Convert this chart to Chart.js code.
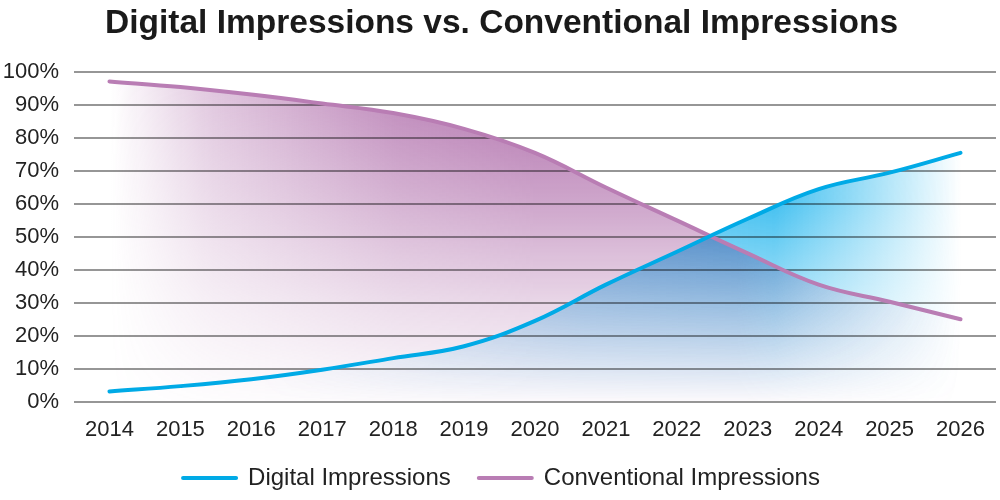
<!DOCTYPE html>
<html><head><meta charset="utf-8">
<script src="https://cdn.jsdelivr.net/npm/chart.js@4/dist/chart.umd.min.js"></script>
<style>html,body{margin:0;padding:0;background:#fff;}#wrap{width:1000px;height:500px;position:relative;}</style>
</head><body><div id="wrap"><canvas id="c"></canvas></div>
<script>
const years = ['2014','2015','2016','2017','2018','2019','2020','2021','2022','2023','2024','2025','2026'];
const digital = [3.1, 4.7, 6.8, 9.7, 13.2, 16.8, 24.5, 35.5, 45.5, 55.5, 64.5, 69.5, 75.5];
const conventional = [97.2, 95.5, 93.2, 90.5, 87.6, 82.8, 75.5, 65, 55, 45, 35.5, 30.3, 25];
const seriesNames = ['Digital Impressions', 'Conventional Impressions'];
const seriesColors = ['#00AAE6', '#B97DB4'];

const FONT = "'Liberation Sans', Arial, sans-serif";
const cache = {};
function makeFill(chart, key, rgb, hStops, vStops) {
  const a = chart.chartArea;
  if (!a) return 'rgba(0,0,0,0)';
  const sig = key + a.left + a.right + a.top + a.bottom + chart.width + chart.height;
  if (cache[key] && cache[key].sig === sig) return cache[key].pat;
  const cv = document.createElement('canvas');
  cv.width = chart.width; cv.height = chart.height;
  const g = cv.getContext('2d');
  const hx = g.createLinearGradient(a.left, 0, a.right, 0);
  hStops.forEach(([p, al]) => hx.addColorStop(p, 'rgba(' + rgb + ',' + al + ')'));
  g.fillStyle = hx; g.fillRect(0, 0, cv.width, cv.height);
  g.globalCompositeOperation = 'destination-in';
  const vy = g.createLinearGradient(0, a.top, 0, a.bottom);
  vStops.forEach(([p, al]) => vy.addColorStop(p, 'rgba(0,0,0,' + al + ')'));
  g.fillStyle = vy; g.fillRect(0, 0, cv.width, cv.height);
  const pat = chart.ctx.createPattern(cv, 'no-repeat');
  cache[key] = {sig, pat};
  return pat;
}

const blendPlugin = {
  id: 'blend',
  beforeRender(chart) { chart.ctx.globalCompositeOperation = 'multiply'; },
  beforeDatasetsDraw(chart) { chart.ctx.globalCompositeOperation = 'source-over'; },
  afterDraw(chart) { chart.ctx.globalCompositeOperation = 'source-over'; }
};

new Chart(document.getElementById('c'), {
  type: 'line',
  data: {
    labels: years,
    datasets: [
      {
        label: seriesNames[0], data: digital,
        borderColor: seriesColors[0], borderWidth: 4, borderCapStyle: 'round',
        tension: 0.4, pointRadius: 0, pointHoverRadius: 0, fill: 'origin',
        backgroundColor: (ctx) => makeFill(ctx.chart, 'd', '0,170,235',
          [[0,0],[0.2,0],[0.4,0.5],[0.55,0.72],[0.76,0.85],[0.962,0],[1,0]],
          [[0,1],[0.4,0.85],[1,0]])
      },
      {
        label: seriesNames[1], data: conventional,
        borderColor: seriesColors[1], borderWidth: 4, borderCapStyle: 'round',
        tension: 0.4, pointRadius: 0, pointHoverRadius: 0, fill: 'origin',
        backgroundColor: (ctx) => makeFill(ctx.chart, 'c', '170,100,165',
          [[0,0],[0.04,0],[0.15,0.38],[0.35,0.8],[0.5,0.95],[0.72,0.95],[0.962,0],[1,0]],
          [[0,1],[0.4,0.6],[0.7,0.28],[1,0.04]])
      }
    ]
  },
  options: {
    responsive: true, maintainAspectRatio: false, animation: false,
    layout: { padding: { left: 3, right: 0, top: 0, bottom: 0 } },
    plugins: {
      filler: { drawTime: 'beforeDraw' },
      tooltip: { enabled: false },
      title: {
        display: true, text: 'Digital Impressions vs. Conventional Impressions',
        color: '#1a1a1a', font: { family: FONT, size: 33.5, weight: 'bold' },
        padding: { top: 4, bottom: 28 }
      },
      legend: {
        position: 'bottom',
        labels: {
          font: { family: FONT, size: 24 }, color: '#222',
          usePointStyle: true, pointStyle: 'line', pointStyleWidth: 53, boxHeight: 24, padding: 8,
          generateLabels: (chart) => chart.data.datasets.map((ds, i) => ({
            text: i === 0 ? ds.label + '   ' : ds.label,
            fillStyle: ds.borderColor, strokeStyle: ds.borderColor,
            lineWidth: 4, lineCap: 'round', pointStyle: 'line', fontColor: '#222',
            hidden: false, datasetIndex: i
          }))
        }
      }
    },
    scales: {
      x: {
        offset: true,
        grid: { display: false, drawTicks: false },
        border: { display: false },
        ticks: { font: { family: FONT, size: 22 }, color: '#222', padding: 15 }
      },
      y: {
        min: 0, max: 100,
        afterFit: (scale) => { scale.width = 71; },
        grid: { color: 'rgb(150,150,150)', lineWidth: 2, drawTicks: false },
        border: { display: false },
        ticks: { stepSize: 10, font: { family: FONT, size: 22 }, color: '#222', padding: 15,
          callback: (v) => v + '%' }
      }
    }
  },
  plugins: [blendPlugin]
});
</script>
</body></html>
